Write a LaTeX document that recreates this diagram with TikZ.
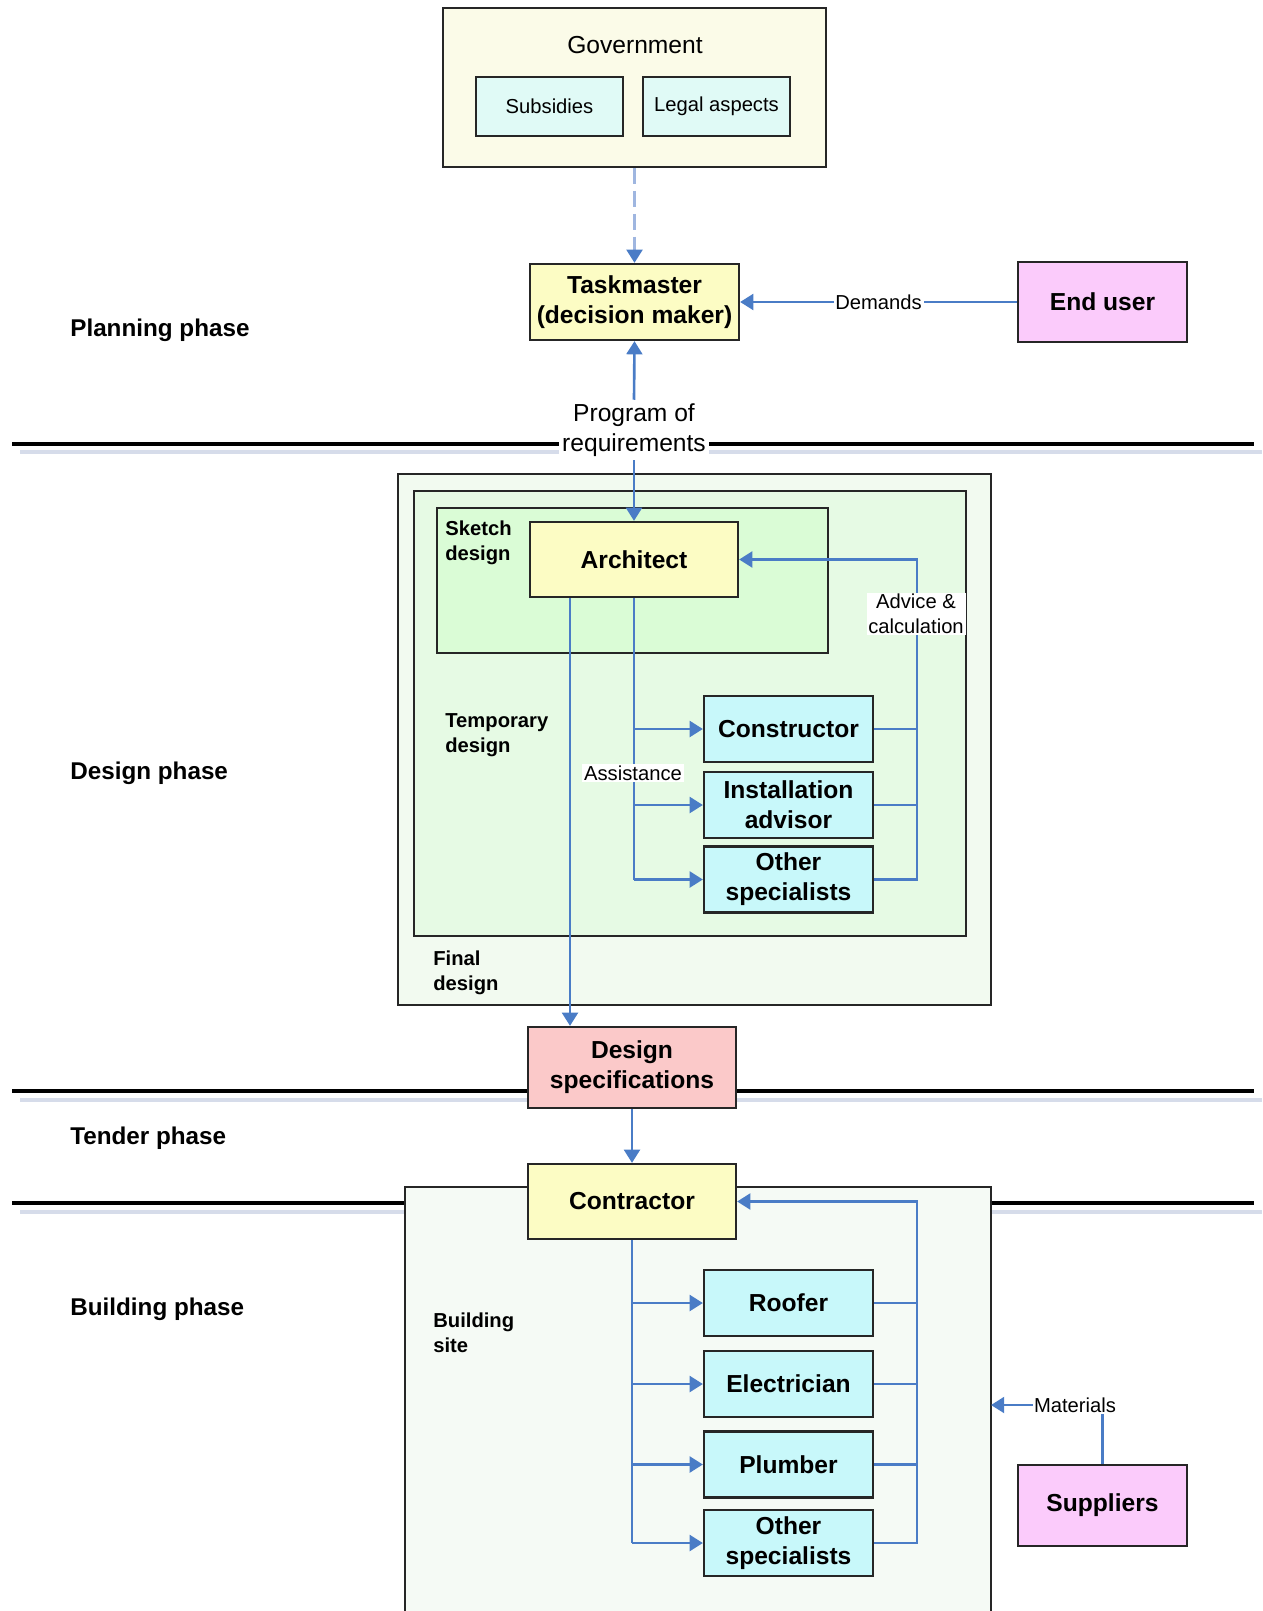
\documentclass[tikz,border=0pt]{standalone}
\usepackage{fontspec}
\setmainfont{Liberation Sans}
\usetikzlibrary{arrows.meta}

\definecolor{govfill}{HTML}{FBFBE8}
\definecolor{lightcyan}{HTML}{E0FAF6}
\definecolor{boxyellow}{HTML}{FCFCC4}
\definecolor{boxpink}{HTML}{FBCBFB}
\definecolor{finalfill}{HTML}{F2FAF0}
\definecolor{tempfill}{HTML}{E6FAE4}
\definecolor{sketchfill}{HTML}{DAFCD6}
\definecolor{specfill}{HTML}{C8F8FA}
\definecolor{docfill}{HTML}{FBC9C9}
\definecolor{sitefill}{HTML}{F5FAF5}
\definecolor{arrowblue}{HTML}{4A7CC6}
\definecolor{dashblue}{HTML}{9FB6E0}
\definecolor{shadowgray}{HTML}{D6DCEA}
\definecolor{boxline}{HTML}{262626}

\newcommand{\bigbf}{\fontsize{14}{17}\selectfont\bfseries}
\newcommand{\bigrm}{\fontsize{14}{17}\selectfont}
\newcommand{\smallbf}{\fontsize{11.5}{14}\selectfont\bfseries}
\newcommand{\smallrm}{\fontsize{11.5}{14}\selectfont}

\begin{document}
\begin{tikzpicture}[x=0.02cm, y=-0.02cm,
    box/.style={draw=boxline, line width=1.3pt, align=center, inner sep=2pt, font=\bigbf},
    area/.style={draw=boxline, line width=1.3pt, inner sep=0pt},
    note/.style={align=left, anchor=west, inner sep=0pt, font=\smallbf},
    tag/.style={fill=white, inner sep=1pt, align=center, font=\smallrm},
    phase/.style={anchor=west, inner sep=0pt, font=\fontsize{13.8}{16}\selectfont\bfseries},
    conn/.style={draw=arrowblue, line width=1.5pt},
    arr/.style={conn, -{Triangle[width=9pt,length=7.5pt,color=arrowblue]}},
    divider/.style={line width=2.4pt, black},
    shade/.style={line width=2.4pt, shadowgray}]
    \useasboundingbox (0,0) rectangle (1262,1611);

    % phase dividers
    \draw[shade] (20,452) -- (1262,452);
    \draw[divider] (12,444) -- (1254,444);
    \draw[shade] (20,1100) -- (1262,1100);
    \draw[divider] (12,1091) -- (1254,1091);
    \draw[shade] (20,1212) -- (1262,1212);
    \draw[divider] (12,1203) -- (1254,1203);

    \node[phase] (plan) at (70,330) {Planning phase};
    \node[phase] (des) at (70,773) {Design phase};
    \node[phase] (tend) at (70,1138) {Tender phase};
    \node[phase] (build) at (70,1309) {Building phase};

    % planning
    \node[area, fill=govfill, minimum width=7.66cm, minimum height=3.18cm] (gov) at (634.5,87.5) {};
    \node[font=\bigrm] (govt) at (635,45) {Government};
    \node[box, fill=lightcyan, font=\smallrm, minimum width=2.94cm, minimum height=1.18cm] (subs) at (549.5,106.5) {Subsidies};
    \node[box, fill=lightcyan, font=\smallrm, minimum width=2.94cm, minimum height=1.18cm] (legal) at (716.5,106.5) {Legal aspects};
    \node[box, fill=boxyellow, minimum width=4.18cm, minimum height=1.52cm] (task) at (634.5,302) {Taskmaster\\(decision maker)};
    \node[box, fill=boxpink, minimum width=3.38cm, minimum height=1.6cm] (user) at (1102.5,302) {End user};
    \draw[arr, draw=dashblue, dash pattern=on 9pt off 4pt] (gov.south -| task.north) -- (task.north);
    \draw[arr] (user.west) -- node[tag] (dem) {Demands} (task.east);
    \node[tag, font=\bigrm, inner sep=2pt] (prog) at (634,430) {Program of\\requirements};
    \draw[arr] (prog.north) -- (task.south);

    % design
    \node[area, fill=finalfill, minimum width=11.86cm, minimum height=10.62cm] (final) at (694.5,739.5) {};
    \node[area, fill=tempfill, minimum width=11.04cm, minimum height=8.9cm] (temp) at (690,713.5) {};
    \node[area, fill=sketchfill, minimum width=7.82cm, minimum height=2.9cm] (sketch) at (632.5,580.5) {};
    \node[note] (sk) at (445,543) {Sketch\\design};
    \node[note] (tp) at (445,735) {Temporary\\design};
    \node[note] (fn) at (433,973) {Final\\design};
    \node[box, fill=boxyellow, minimum width=4.16cm, minimum height=1.5cm] (arch) at (634,559.5) {Architect};
    \draw[arr] (prog.south) -- (arch.north);
    \node[box, fill=specfill, minimum width=3.38cm, minimum height=1.32cm] (cons) at (788.5,729) {Constructor};
    \node[box, fill=specfill, minimum width=3.38cm, minimum height=1.32cm] (inst) at (788.5,805) {Installation\\advisor};
    \node[box, fill=specfill, minimum width=3.38cm, minimum height=1.32cm] (othA) at (788.5,879.5) {Other\\specialists};
    \coordinate (advx) at (917,0);
    \coordinate (finx) at (570,0);
    \draw[conn] (arch.south) -- (othA.west -| arch.south);
    \draw[arr] (cons.west -| arch.south) -- (cons.west);
    \draw[arr] (inst.west -| arch.south) -- (inst.west);
    \draw[arr] (othA.west -| arch.south) -- (othA.west);
    \draw[conn] (cons.east) -- (cons.east -| advx);
    \draw[conn] (inst.east) -- (inst.east -| advx);
    \draw[arr] (othA.east) -- (othA.east -| advx) -- (arch.east -| advx) -- (arch.east);
    \node[tag] (assist) at (633,773) {Assistance};
    \node[tag] (advice) at (916,614) {Advice \&\\calculation};

    \node[box, fill=docfill, minimum width=4.16cm, minimum height=1.62cm] (spec) at (632,1067.5) {Design\\specifications};
    \draw[arr] (arch.south -| finx) -- (spec.north -| finx);

    % building
    \fill[sitefill] (405,1611) rectangle (991,1187);
    \draw[boxline, line width=1.3pt] (405,1611) -- (405,1187) -- (991,1187) -- (991,1611);
    \node[note] (bs) at (433,1333) {Building\\site};
    \node[box, fill=boxyellow, minimum width=4.16cm, minimum height=1.5cm] (contr) at (632,1201.5) {Contractor};
    \draw[arr] (spec.south) -- (contr.north);
    \node[box, fill=specfill, minimum width=3.38cm, minimum height=1.32cm] (roof) at (788.5,1303) {Roofer};
    \node[box, fill=specfill, minimum width=3.38cm, minimum height=1.32cm] (elec) at (788.5,1384) {Electrician};
    \node[box, fill=specfill, minimum width=3.38cm, minimum height=1.32cm] (plumb) at (788.5,1464.5) {Plumber};
    \node[box, fill=specfill, minimum width=3.38cm, minimum height=1.32cm] (othB) at (788.5,1543) {Other\\specialists};
    \draw[conn] (contr.south) -- (othB.west -| contr.south);
    \draw[arr] (roof.west -| contr.south) -- (roof.west);
    \draw[arr] (elec.west -| contr.south) -- (elec.west);
    \draw[arr] (plumb.west -| contr.south) -- (plumb.west);
    \draw[arr] (othB.west -| contr.south) -- (othB.west);
    \draw[conn] (roof.east) -- (roof.east -| advx);
    \draw[conn] (elec.east) -- (elec.east -| advx);
    \draw[conn] (plumb.east) -- (plumb.east -| advx);
    \draw[arr] (othB.east) -- (othB.east -| advx) -- (contr.east -| advx) -- (contr.east);

    \node[box, fill=boxpink, minimum width=3.38cm, minimum height=1.62cm] (supp) at (1102.5,1505.5) {Suppliers};
    \node[tag, inner sep=0.5pt] (mat) at (1075,1405) {Materials};
    \coordinate (siteE) at (991,1405);
    \draw[conn] (supp.north) -- (supp.north |- mat.south);
    \draw[arr] (mat.west) -- (siteE);
\end{tikzpicture}
\end{document}
